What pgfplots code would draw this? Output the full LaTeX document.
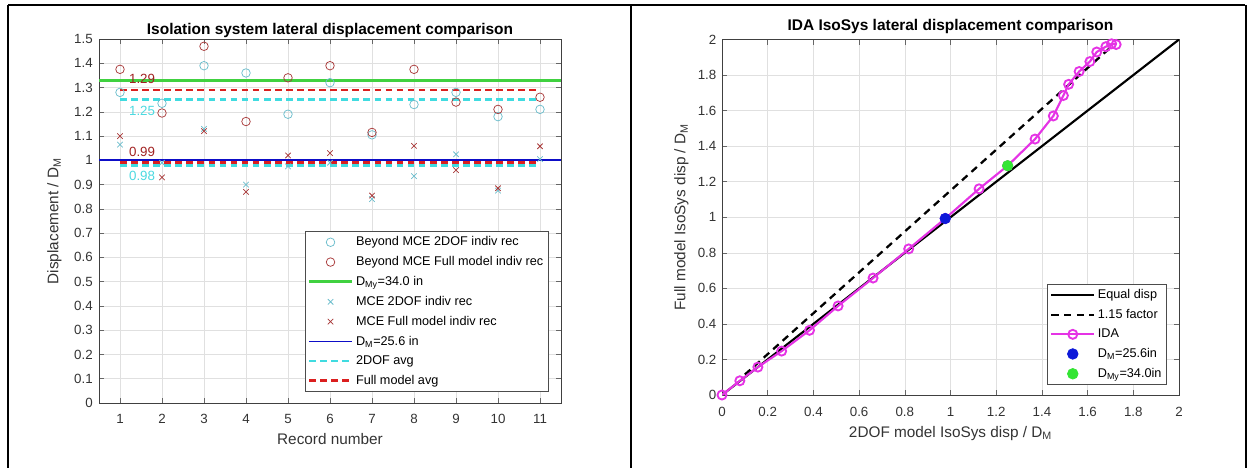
\documentclass[border=0pt]{standalone}
\usepackage{fontspec}
\setmainfont{Liberation Sans}
\usepackage{pgfplots}
\pgfplotsset{compat=1.18}

\definecolor{ctwo}{rgb}{0.42,0.74,0.80}
\definecolor{cfull}{rgb}{0.66,0.22,0.22}
\definecolor{cavgtwo}{rgb}{0.25,0.86,0.88}
\definecolor{cavgfull}{rgb}{0.86,0.12,0.12}
\definecolor{cgreen}{rgb}{0.25,0.82,0.25}
\definecolor{cblue}{rgb}{0.05,0.05,0.78}
\definecolor{cmag}{rgb}{0.9,0.2,0.9}
\definecolor{cdotblue}{rgb}{0.05,0.1,0.85}
\definecolor{cdotgreen}{rgb}{0.2,0.9,0.2}
\definecolor{lblred}{rgb}{0.63,0.13,0.13}
\definecolor{lblcyan}{rgb}{0.3,0.85,0.88}

\pgfplotsset{matlab/.style={
  scale only axis,
  axis line style={black!75, line width=0.5pt},
  tick pos=both, tick align=inside,
  major tick length=4pt,
  tick style={black!60, line width=0.4pt},
  grid=major, grid style={black!12, line width=0.4pt},
  tick label style={font=\fontsize{10}{12}\selectfont, text=black!80},
  /pgf/number format/assume math mode=true,
  label style={font=\fontsize{11.5}{13}\selectfont, text=black!80},
  title style={font=\bfseries\fontsize{11.6}{13}\selectfont},
  every axis title shift=0pt,
  legend style={font=\fontsize{9.5}{11}\selectfont, draw=black!70, line width=0.5pt, fill=white,
    inner xsep=2pt, inner ysep=2pt, row sep=2.5pt, /tikz/every even column/.append style={column sep=1pt}},
  legend cell align=left,
  legend image code/.code={\draw[mark repeat=2,mark phase=2,#1] plot coordinates {(0pt,0pt) (16pt,0pt) (32pt,0pt)};},
}}

\begin{document}
\begin{tikzpicture}
\useasboundingbox (0,0) rectangle (939.75pt,351pt);
% table frame
\draw[black, line width=1.1pt] (6pt,347.25pt) -- (933.75pt,347.25pt);
\draw[black, line width=1.5pt] (6pt,347.25pt) -- (6pt,0pt);
\draw[black, line width=1.5pt] (473.25pt,347.25pt) -- (473.25pt,0pt);
\draw[black, line width=1.5pt] (934.5pt,347.25pt) -- (934.5pt,0pt);

% ---------------- left axis ----------------
\begin{axis}[matlab,
  at={(74.25pt,48.75pt)}, anchor=south west,
  width=346.5pt, height=273pt,
  xmin=0.5, xmax=11.5, ymin=0, ymax=1.5,
  xtick={1,2,3,4,5,6,7,8,9,10,11},
  ytick={0,0.1,0.2,0.3,0.4,0.5,0.6,0.7,0.8,0.9,1,1.1,1.2,1.3,1.4,1.5},
  yticklabels={0,0.1,0.2,0.3,0.4,0.5,0.6,0.7,0.8,0.9,1,1.1,1.2,1.3,1.4,1.5},
  xticklabel style={yshift=-5pt},
  yticklabel style={xshift=-1.2pt},
  title={Isolation system lateral displacement comparison},
  title style={at={(axis description cs:0.5,1.022)}, anchor=center},
  xlabel={Record number},
  xlabel style={at={(axis description cs:0.5,0)}, anchor=base, yshift=-31pt},
  ylabel={Displacement / D\textsubscript{M}},
  ylabel style={at={(axis description cs:-0.0877,0.5)}, anchor=base},
  legend style={at={(0.974,0.030)}, anchor=south east},
]
\addplot[only marks, mark=o, mark size=3.2pt, color=ctwo, mark options={line width=0.55pt}] coordinates {
(1,1.28) (2,1.235) (3,1.39) (4,1.36) (5,1.19) (6,1.32) (7,1.105) (8,1.23) (9,1.28) (10,1.18) (11,1.21)};
\addlegendentry{Beyond MCE 2DOF indiv rec}
\addplot[only marks, mark=o, mark size=3.2pt, color=cfull, mark options={line width=0.55pt}] coordinates {
(1,1.375) (2,1.195) (3,1.47) (4,1.16) (5,1.34) (6,1.39) (7,1.115) (8,1.375) (9,1.24) (10,1.21) (11,1.26)};
\addlegendentry{Beyond MCE Full model indiv rec}
\addplot[color=cgreen, line width=2.3pt] coordinates {(0.5,1.33) (11.5,1.33)};
\addlegendentry{D\textsubscript{My}=34.0 in}
\addplot[only marks, mark=x, mark size=2.9pt, color=ctwo, mark options={line width=0.55pt}] coordinates {
(1,1.065) (2,0.99) (3,1.13) (4,0.90) (5,0.975) (6,0.99) (7,0.84) (8,0.935) (9,1.025) (10,0.875) (11,1.005)};
\addlegendentry{MCE 2DOF indiv rec}
\addplot[only marks, mark=x, mark size=2.9pt, color=cfull, mark options={line width=0.55pt}] coordinates {
(1,1.10) (2,0.93) (3,1.12) (4,0.87) (5,1.02) (6,1.03) (7,0.855) (8,1.06) (9,0.96) (10,0.885) (11,1.058)};
\addlegendentry{MCE Full model indiv rec}
\addplot[color=cblue, line width=1.3pt] coordinates {(0.5,1) (11.5,1)};
\addlegendentry{D\textsubscript{M}=25.6 in}
\addplot[color=cavgtwo, line width=2pt, dash pattern=on 5pt off 3.3pt] coordinates {(1,1.25) (11,1.25)};
\addlegendentry{2DOF avg}
\addplot[color=cavgfull, line width=2pt, dash pattern=on 5pt off 3.3pt] coordinates {(1,1.29) (11,1.29)};
\addlegendentry{Full model avg}
\addplot[forget plot, color=cavgtwo, line width=2pt, dash pattern=on 5pt off 3.3pt] coordinates {(1,0.98) (11,0.98)};
\addplot[forget plot, color=cavgfull, line width=2pt, dash pattern=on 5pt off 3.3pt] coordinates {(1,0.99) (11,0.99)};
\node[anchor=west, inner sep=0pt, text=lblred, font=\fontsize{10}{12}\selectfont] at (axis cs:1.21,1.335) {1.29};
\node[anchor=west, inner sep=0pt, text=lblcyan, font=\fontsize{10}{12}\selectfont] at (axis cs:1.21,1.204) {1.25};
\node[anchor=west, inner sep=0pt, text=lblred, font=\fontsize{10}{12}\selectfont] at (axis cs:1.21,1.035) {0.99};
\node[anchor=west, inner sep=0pt, text=lblcyan, font=\fontsize{10}{12}\selectfont] at (axis cs:1.21,0.935) {0.98};
\end{axis}

% ---------------- right axis ----------------
\begin{axis}[matlab,
  at={(541.5pt,54.75pt)}, anchor=south west,
  width=342.75pt, height=266.6pt,
  xmin=0, xmax=2, ymin=0, ymax=2,
  xtick={0,0.2,0.4,0.6,0.8,1,1.2,1.4,1.6,1.8,2},
  xticklabels={0,0.2,0.4,0.6,0.8,1,1.2,1.4,1.6,1.8,2},
  ytick={0,0.2,0.4,0.6,0.8,1,1.2,1.4,1.6,1.8,2},
  yticklabels={0,0.2,0.4,0.6,0.8,1,1.2,1.4,1.6,1.8,2},
  xticklabel style={yshift=-5.5pt},
  yticklabel style={xshift=-0.7pt},
  title={IDA IsoSys lateral displacement comparison},
  title style={at={(axis description cs:0.5,1.037)}, anchor=center},
  xlabel={2DOF model IsoSys disp / D\textsubscript{M}},
  xlabel style={at={(axis description cs:0.5,0)}, anchor=base, yshift=-31.5pt},
  ylabel={Full model IsoSys disp / D\textsubscript{M}},
  ylabel style={at={(axis description cs:-0.0799,0.5)}, anchor=base},
  legend style={at={(0.974,0.028)}, anchor=south east},
]
\addplot[black, line width=1.6pt] coordinates {(0,0) (2,2)};
\addlegendentry{Equal disp}
\addplot[black, line width=1.7pt, dash pattern=on 5.5pt off 4pt] coordinates {(0.1,0.115) (1.70,1.955)};
\addlegendentry{1.15 factor}
\addplot[cmag, line width=1.6pt, mark=o, mark size=3.4pt, mark options={solid, line width=1.4pt}] coordinates {
(0,0) (0.078,0.08) (0.157,0.157) (0.261,0.247) (0.383,0.364) (0.508,0.501) (0.661,0.658) (0.817,0.822)
(0.977,0.993) (1.125,1.16) (1.25,1.29) (1.37,1.44) (1.45,1.57) (1.494,1.685) (1.517,1.748) (1.563,1.82)
(1.61,1.876) (1.64,1.93) (1.68,1.96) (1.705,1.976) (1.725,1.972)};
\addlegendentry{IDA}
\addplot[only marks, mark=*, mark size=4pt, color=cdotblue] coordinates {(0.977,0.993)};
\addlegendentry{D\textsubscript{M}=25.6in}
\addplot[only marks, mark=*, mark size=4pt, color=cdotgreen] coordinates {(1.25,1.29)};
\addlegendentry{D\textsubscript{My}=34.0in}
\end{axis}
\end{tikzpicture}
\end{document}
